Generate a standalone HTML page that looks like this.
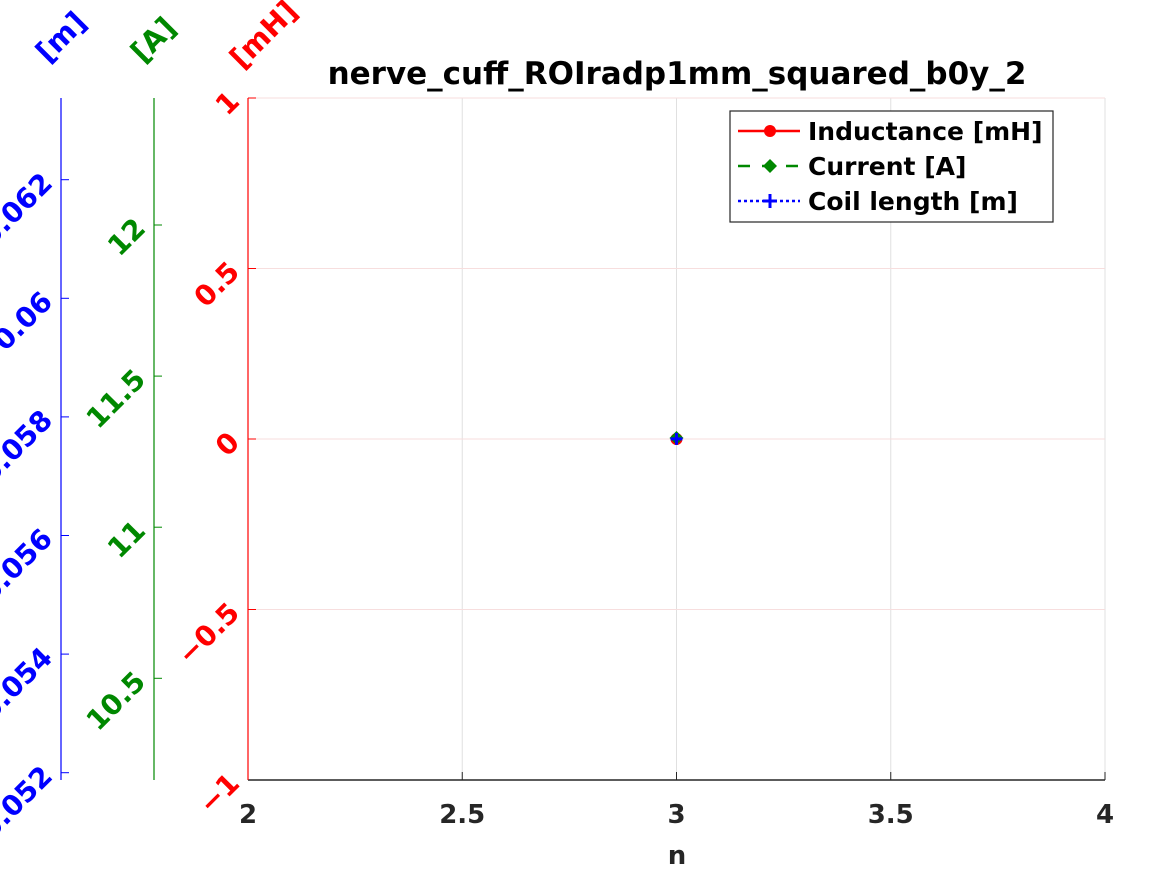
<!DOCTYPE html>
<html><head><meta charset="utf-8"><style>
html,body{margin:0;padding:0;background:#fff;}
svg{display:block;font-family:"DejaVu Sans","Liberation Sans",sans-serif;font-weight:bold;}
</style></head><body>
<svg id="chart" width="1167" height="875" viewBox="0 0 1167 875">
<g id="grid"></g>
<g id="axes"></g>
<g id="marks"></g>
<text x="677" y="84" text-anchor="middle" font-size="31" fill="#000">nerve_cuff_ROIradp1mm_squared_b0y_2</text>
<text x="677" y="864" text-anchor="middle" font-size="26" fill="#262626">n</text>
<g>
<rect x="730" y="111" width="323" height="111" fill="#fff" stroke="#262626" stroke-width="1.2"/>
<g>
<line x1="738" y1="131" x2="800" y2="131" stroke="#f00" stroke-width="2.5"/>
<circle cx="770" cy="131" r="6" fill="#f00"/>
<text x="808" y="140" font-size="25" fill="#000">Inductance [mH]</text></g>
<g>
<line x1="738" y1="166" x2="800" y2="166" stroke="#080" stroke-width="2.5" stroke-dasharray="12,12"/>
<path d="M770 159 L777 166 L770 173 L763 166Z" fill="#080"/>
<text x="808" y="175" font-size="25" fill="#000">Current [A]</text></g>
<g>
<line x1="738" y1="201" x2="800" y2="201" stroke="#00f" stroke-width="2.5" stroke-dasharray="3,3"/>
<path d="M770 194 V208 M763 201 H777" stroke="#00f" stroke-width="3"/>
<text x="808" y="210" font-size="25" fill="#000">Coil length [m]</text></g>
</g>
</svg>
<script>
const nValues=[3];
const inductance=[0];
const current=[11.295];
const coilLength=[0.05763];
const xTicks=[2,2.5,3,3.5,4];
const xTickLabels=["2","2.5","3","3.5","4"];
const redTicks=[1,0.5,0,-0.5,-1];
const redTickLabels=["1","0.5","0","\u22120.5","\u22121"];
const greenTicks=[12,11.5,11,10.5];
const greenTickLabels=["12","11.5","11","10.5"];
const blueTicks=[0.062,0.06,0.058,0.056,0.054,0.052];
const blueTickLabels=["0.062","0.06","0.058","0.056","0.054","0.052"];

const NS="http://www.w3.org/2000/svg";
const L=248,R=1105,T=98,B=780;
const xs=v=>L+(v-2)/2*(R-L);
const yRed=v=>T+(1-v)/2*(B-T);
const yGreen=v=>225+(12-v)/0.5*151.1;
const yBlue=v=>179.7+(0.062-v)/0.002*118.6;
function mk(tag,attrs,parent,txt){const e=document.createElementNS(NS,tag);for(const k in attrs)e.setAttribute(k,attrs[k]);if(txt!==undefined)e.textContent=txt;parent.appendChild(e);return e;}
const grid=document.getElementById('grid'),axes=document.getElementById('axes'),marks=document.getElementById('marks');

xTicks.forEach((v,i)=>{
 const g=mk('line',{x1:xs(v),y1:T,x2:xs(v),y2:B,stroke:'#e0e0e0','stroke-width':1},grid);
 
 
 mk('line',{x1:xs(v),y1:B,x2:xs(v),y2:B-8,stroke:'#262626','stroke-width':1},axes);
 const t=mk('text',{x:xs(v),y:823,'text-anchor':'middle','font-size':26,fill:'#262626'},axes,xTickLabels[i]);
 
 
});
redTicks.forEach((v,i)=>{
 const g=mk('line',{x1:L,y1:yRed(v),x2:R,y2:yRed(v),stroke:'#f7dede','stroke-width':1},grid);
 
 
 mk('line',{x1:L,y1:yRed(v),x2:L+8,y2:yRed(v),stroke:'#f00','stroke-width':1},axes);
 const x=L-7,y=yRed(v)+5;
 const t=mk('text',{x:x,y:y,'text-anchor':'end','font-size':28,fill:'#f00',transform:`rotate(-45 ${x} ${y})`},axes,redTickLabels[i]);
 
 
});
mk('line',{x1:L,y1:B,x2:R,y2:B,stroke:'#262626','stroke-width':1.5},axes);
mk('line',{x1:L,y1:T,x2:L,y2:B,stroke:'#f00','stroke-width':1.2},axes);
greenTicks.forEach((v,i)=>{
 const ax=154;
 mk('line',{x1:ax,y1:yGreen(v),x2:ax+8,y2:yGreen(v),stroke:'#080','stroke-width':1},axes);
 const x=ax-7,y=yGreen(v)+5;
 const t=mk('text',{x:x,y:y,'text-anchor':'end','font-size':28,fill:'#080',transform:`rotate(-45 ${x} ${y})`},axes,greenTickLabels[i]);
 
 
});
mk('line',{x1:154,y1:T,x2:154,y2:B,stroke:'#080','stroke-width':1.2},axes);
blueTicks.forEach((v,i)=>{
 const ax=61;
 mk('line',{x1:ax,y1:yBlue(v),x2:ax+8,y2:yBlue(v),stroke:'#00f','stroke-width':1},axes);
 const x=ax-7,y=yBlue(v)+5;
 const t=mk('text',{x:x,y:y,'text-anchor':'end','font-size':28,fill:'#00f',transform:`rotate(-45 ${x} ${y})`},axes,blueTickLabels[i]);
 
 
});
mk('line',{x1:61,y1:T,x2:61,y2:B,stroke:'#00f','stroke-width':1.2},axes);
[[48,64,'#00f','[m]','coil-length-axis-title'],[143,64,'#080','[A]','current-axis-title'],[242,70,'#f00','[mH]','inductance-axis-title']].forEach(a=>{
 const t=mk('text',{x:a[0],y:a[1],'font-size':29,fill:a[2],transform:`rotate(-45 ${a[0]} ${a[1]})`},axes,a[3]);
 
 
});
nValues.forEach((n,i)=>{
 const c=mk('circle',{cx:xs(n),cy:yRed(inductance[i]),r:6,fill:'#f00'},marks);
 
 
 const x=xs(n),yg=yGreen(current[i]);
 const d=mk('path',{d:`M${x} ${yg-7} L${x+7} ${yg} L${x} ${yg+7} L${x-7} ${yg}Z`,fill:'#080'},marks);
 
 
 const yb=yBlue(coilLength[i]);
 const p=mk('path',{d:`M${x} ${yb-6} V${yb+6} M${x-6} ${yb} H${x+6}`,stroke:'#00f','stroke-width':3},marks);
 
 
});
</script>
</body></html>
